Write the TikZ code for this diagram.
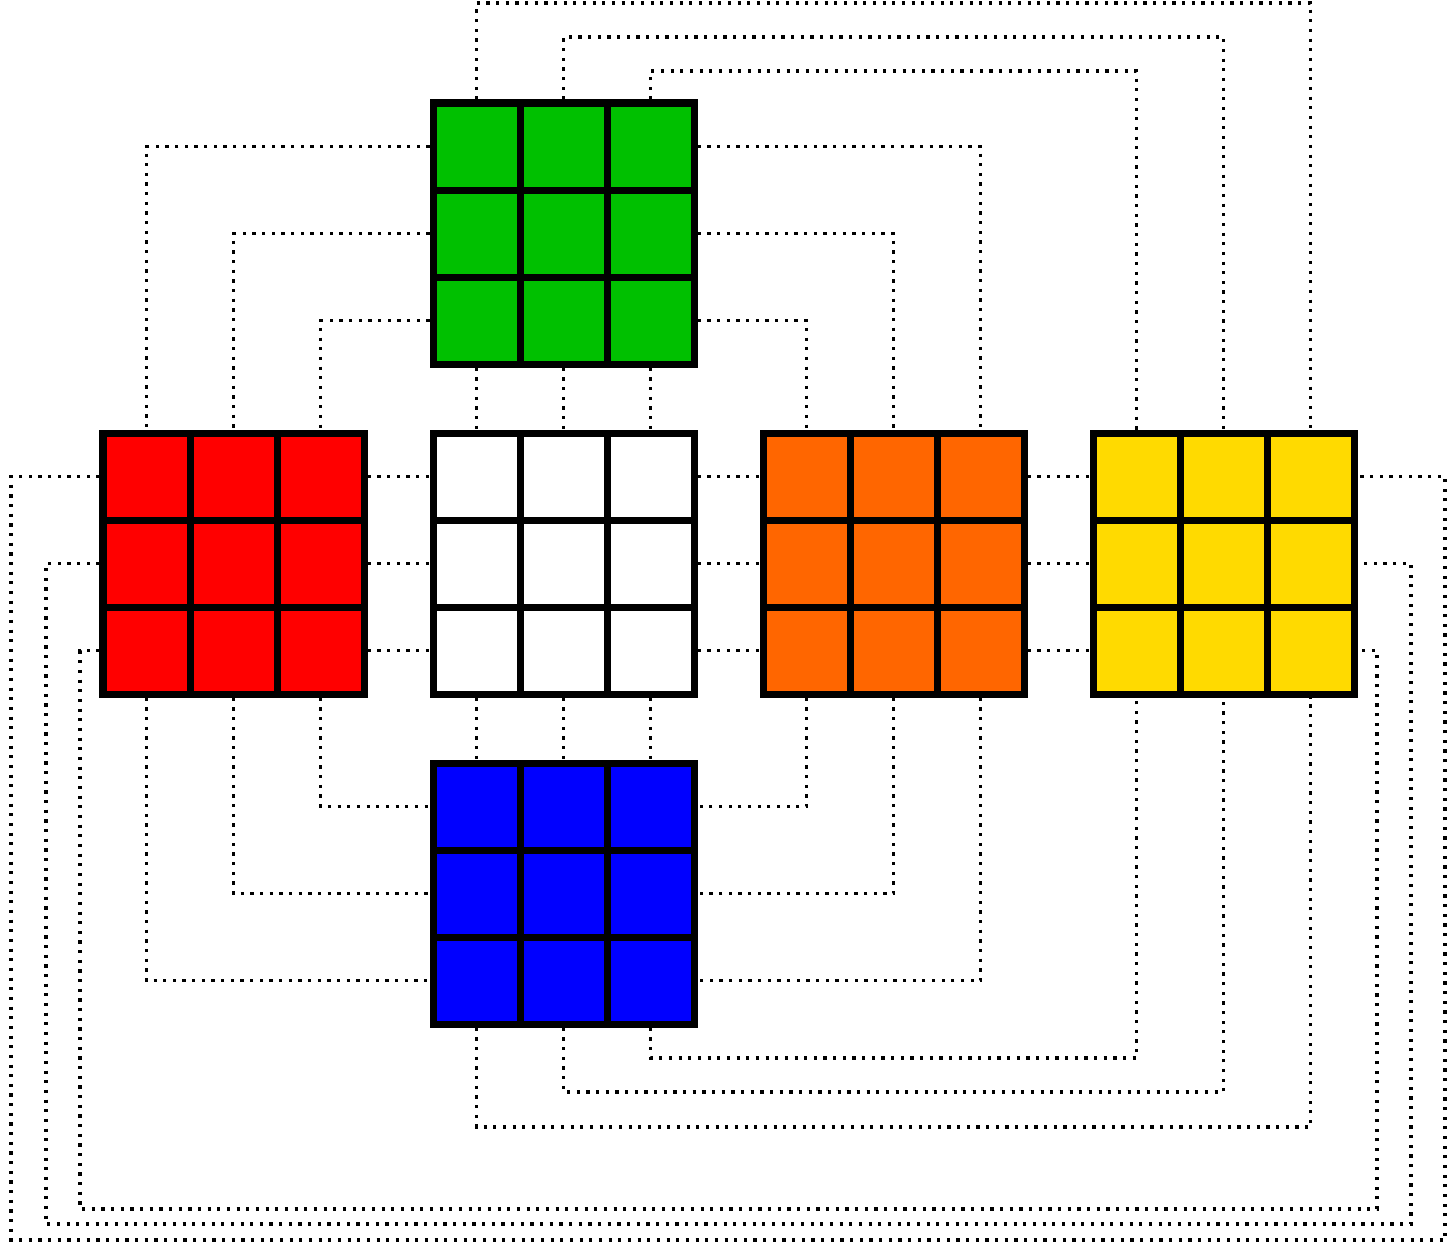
\documentclass[tikz,border=0pt]{standalone}
\usepackage{xcolor}
\usepackage{tikz}

\definecolor{cubegreen}{HTML}{00C000}
\definecolor{cubered}{HTML}{FF0000}
\definecolor{cubeorange}{HTML}{FF6600}
\definecolor{cubeyellow}{HTML}{FFDA00}
\definecolor{cubeblue}{HTML}{0000FF}

\begin{document}
\begin{tikzpicture}[
    x=0.02cm, y=-0.02cm,
    cell/.style={draw, line width=4pt, minimum size=1.742cm, inner sep=0pt},
    link/.style={line width=1.8pt, dash pattern=on 1.8pt off 3.7pt},
]
\useasboundingbox (0,0) rectangle (1456,1248);

% faces: name / top-left / colour
\foreach \f/\fx/\fy/\col in {g/433/103/cubegreen, r/103/433/cubered, w/433/433/white,
        o/763/433/cubeorange, y/1093/433/cubeyellow, b/433/763/cubeblue}
    \foreach \r in {1,2,3}
        \foreach \c in {1,2,3}
            \node[cell, fill=\col] (\f\r\c) at ({\fx+87.1*\c-43.55},{\fy+87.1*\r-43.55}) {};

% green - white, white - blue
\draw[link] (g31.south) -- (w11.north);
\draw[link] (g32.south) -- (w12.north);
\draw[link] (g33.south) -- (w13.north);
\draw[link] (w31.south) -- (b11.north);
\draw[link] (w32.south) -- (b12.north);
\draw[link] (w33.south) -- (b13.north);

% middle row
\draw[link] (r13.east) -- (w11.west);
\draw[link] (r23.east) -- (w21.west);
\draw[link] (r33.east) -- (w31.west);
\draw[link] (w13.east) -- (o11.west);
\draw[link] (w23.east) -- (o21.west);
\draw[link] (w33.east) -- (o31.west);
\draw[link] (o13.east) -- (y11.west);
\draw[link] (o23.east) -- (y21.west);
\draw[link] (o33.east) -- (y31.west);

% green - red, green - orange
\draw[link] (g11.west) -| (r11.north);
\draw[link] (g21.west) -| (r12.north);
\draw[link] (g31.west) -| (r13.north);
\draw[link] (g13.east) -| (o13.north);
\draw[link] (g23.east) -| (o12.north);
\draw[link] (g33.east) -| (o11.north);

% red - blue, orange - blue
\draw[link] (r31.south) |- (b31.west);
\draw[link] (r32.south) |- (b21.west);
\draw[link] (r33.south) |- (b11.west);
\draw[link] (o31.south) |- (b13.east);
\draw[link] (o32.south) |- (b23.east);
\draw[link] (o33.south) |- (b33.east);

% green - yellow over the top
\draw[link] (g11.north) -- (g11.north |- 0,3) -| (y13.north);
\draw[link] (g12.north) -- (g12.north |- 0,37) -| (y12.north);
\draw[link] (g13.north) -- (g13.north |- 0,71) -| (y11.north);

% blue - yellow underneath
\draw[link] (b31.south) -- (b31.south |- 0,1127) -| (y33.south);
\draw[link] (b32.south) -- (b32.south |- 0,1092) -| (y32.south);
\draw[link] (b33.south) -- (b33.south |- 0,1058) -| (y31.south);

% red - yellow round the outside
\draw[link] (r11.west) -| (11,1240) -| (y13.east -| 1445,0) -- (y13.east);
\draw[link] (r21.west) -| (46,1224) -| (y23.east -| 1411,0) -- (y23.east);
\draw[link] (r31.west) -| (80,1209) -| (y33.east -| 1377,0) -- (y33.east);

\end{tikzpicture}
\end{document}
